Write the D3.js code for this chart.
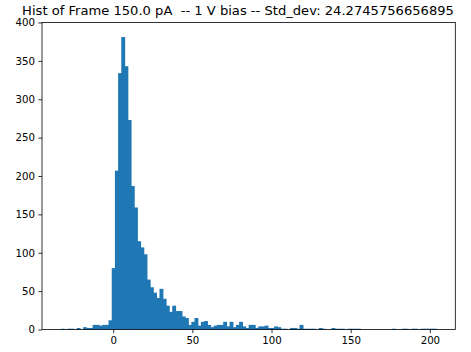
<!DOCTYPE html>
<html>
<head>
<meta charset="utf-8">
<script src="https://cdn.jsdelivr.net/npm/d3@7"></script>
<style>
  body { margin: 0; background: #fff; }
  text { font-family: "DejaVu Sans", sans-serif; fill: #000; }
</style>
</head>
<body>
<div class="chart"></div>
<script>
// Histogram of frame values

var svgWidth = 471;
var svgHeight = 352;

var margin = { top: 22.5, right: 15.7, bottom: 22.5, left: 42 };

var width = svgWidth - margin.left - margin.right;
var height = svgHeight - margin.top - margin.bottom;

// data range of the histogram and counts per bin
var dataMin = -33.1;
var dataMax = 204.2;
var counts = [
  1, 0, 1, 1, 0, 2, 0, 3, 2, 2,
  6, 6, 5, 6, 6, 12, 80, 207, 334, 381,
  343, 273, 187, 159, 115, 107, 98, 65, 55, 48,
  41, 53, 40, 31, 23, 31, 24, 24, 17, 15,
  6, 10, 15, 5, 10, 11, 6, 3, 5, 6,
  6, 10, 4, 10, 3, 6, 10, 4, 2, 6,
  6, 2, 4, 4, 5, 2, 2, 4, 3, 1,
  1, 0, 2, 2, 1, 6, 1, 1, 1, 1,
  0, 2, 1, 0, 0, 2, 1, 1, 1, 0,
  1, 1, 1, 1, 0, 0, 0, 0, 0, 0,
  0, 0, 0, 0, 1, 0, 0, 1, 1, 0,
  1, 1, 0, 1, 1, 1, 1, 1
];
var xTicks = [0, 50, 100, 150, 200];
var yTicks = [0, 50, 100, 150, 200, 250, 300, 350, 400];
var title = "Hist of Frame 150.0 pA  -- 1 V bias -- Std_dev: 24.2745756656895";

var binWidth = (dataMax - dataMin) / counts.length;
var bins = counts.map(function(c, i) {
  return { x0: dataMin + i * binWidth, x1: dataMin + (i + 1) * binWidth, count: c };
});

var svg = d3.select(".chart")
  .append("svg")
  .attr("width", svgWidth)
  .attr("height", svgHeight);

var chartGroup = svg.append("g")
  .attr("transform", `translate(${margin.left}, ${margin.top})`);

// matplotlib style 5% padding on x
var pad = (dataMax - dataMin) * 0.05;
var xScale = d3.scaleLinear()
  .domain([dataMin - pad, dataMax + pad])
  .range([0, width]);

var yScale = d3.scaleLinear()
  .domain([0, 400])
  .range([height, 0]);

// bars (slightly widened so no seams show between neighbours)
chartGroup.selectAll("rect")
  .data(bins)
  .enter()
  .append("rect")
  .attr("x", d => xScale(d.x0))
  .attr("width", d => xScale(d.x1) - xScale(d.x0) + 0.7)
  .attr("y", d => yScale(d.count))
  .attr("height", d => height - yScale(d.count))
  .attr("fill", "#1f77b4");

// axes
var bottomAxis = d3.axisBottom(xScale).tickValues(xTicks).tickSize(3.6).tickPadding(3.4);
var leftAxis = d3.axisLeft(yScale).tickValues(yTicks).tickSize(3.6).tickPadding(3.4);

var xAxis = chartGroup.append("g")
  .attr("transform", `translate(0, ${height})`)
  .call(bottomAxis);

var yAxis = chartGroup.append("g")
  .call(leftAxis);

[xAxis, yAxis].forEach(function(ax) {
  ax.select(".domain").remove();
  ax.selectAll(".tick line").attr("stroke", "#000").attr("stroke-width", 0.8);
  ax.selectAll(".tick text")
    .style("font-family", "DejaVu Sans, sans-serif")
    .style("font-size", "10.2px")
    .attr("fill", "#000");
});

// frame
chartGroup.append("rect")
  .attr("x", 0)
  .attr("y", 0)
  .attr("width", width)
  .attr("height", height)
  .attr("fill", "none")
  .attr("stroke", "#000")
  .attr("stroke-width", 0.8);

// title
svg.append("text")
  .attr("x", 238)
  .attr("y", 15)
  .attr("text-anchor", "middle")
  .style("font-size", "13.1px")
  .style("white-space", "pre")
  .text(title);
</script>
</body>
</html>
